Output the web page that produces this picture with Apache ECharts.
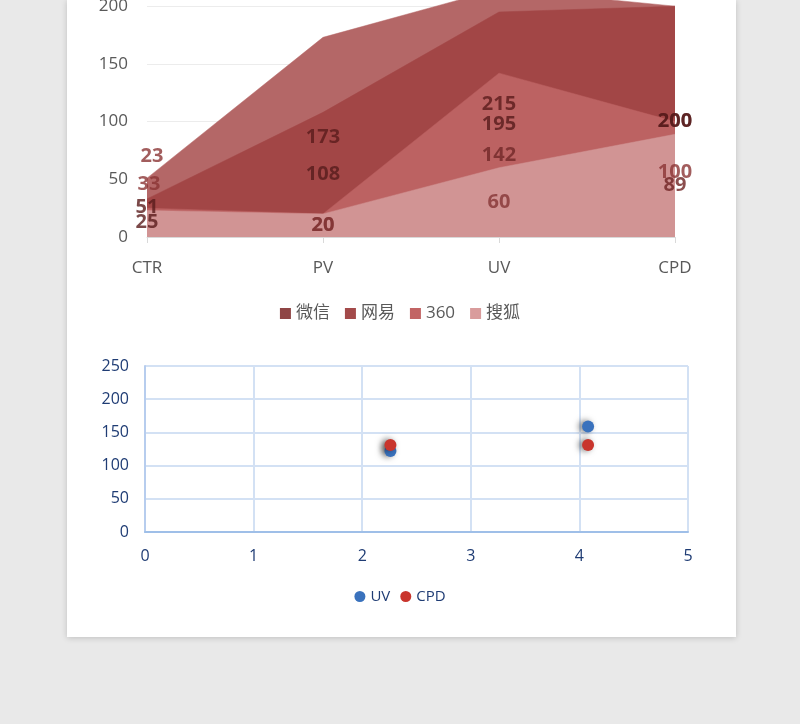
<!DOCTYPE html>
<html>
<head>
<meta charset="utf-8">
<script src="https://cdn.jsdelivr.net/npm/echarts@6/dist/echarts.min.js"></script>
<style>
html,body{margin:0;padding:0;width:800px;height:724px;background:#e9e9e9;overflow:hidden;}
#card{position:absolute;left:67px;top:0;width:669px;height:637px;background:#fff;box-shadow:0 1px 6px rgba(0,0,0,0.18);}
#chart{position:absolute;left:0;top:-60px;width:800px;height:784px;}
</style>
</head>
<body>
<div id="card"></div>
<div id="chart"></div>
<script>
// ---- data ----
const categories = ['CTR', 'PV', 'UV', 'CPD'];
const seriesNames = ['微信', '网易', '360', '搜狐'];
const wechat = [51, 173, 215, 200];
const netease = [33, 108, 195, 200];
const s360 = [25, 20, 142, 100];
const sohu = [23, 20, 60, 89];

const scatterNames = ['UV', 'CPD'];
const scatterX = [2.26, 4.08];
const uvValues = [122, 159];
const cpdValues = [131, 131];

// ---- styles ----
const FONT = "'Open Sans','Noto Sans CJK SC',sans-serif";
const areaColors = ['#b46767', '#a24646', '#bc6262', '#d19494'];
const legendColors = ['#8f4545', '#a34a4a', '#c26464', '#d99c9c'];
const labelColors = ['#5a1c1c', '#561b1b', '#702828', '#853535'];
// per-label tweaks: "seriesIndex:pointIndex" -> {dy, dx, color}
const labelTweaks = {
  '3:0': {dy: -67, dx: 5, color: '#8b3535'},
  '1:0': {dy: -34, dx: 2, color: '#8b3535'},
  '2:0': {dy: 0, dx: 0, color: '#5a1c1c'},
  '0:2': {dy: -9, dx: 0},
  '2:3': {dy: -7, dx: 0, color: '#8b3535'},
  '3:3': {dy: 0, dx: 0, color: '#6e2222'}
};

const allSeriesData = [wechat, netease, s360, sohu];

const series = [];
allSeriesData.forEach((vals, si) => {
  series.push({
    name: seriesNames[si],
    type: 'line',
    xAxisIndex: 0, yAxisIndex: 0,
    data: vals,
    symbol: 'none',
    itemStyle: {color: legendColors[si]},
    lineStyle: {width: 0.5, color: areaColors[si]},
    areaStyle: {color: areaColors[si], opacity: 1},
    z: 2 + si,
    silent: true
  });
});
allSeriesData.forEach((vals, si) => {
  series.push({
    name: seriesNames[si] + '-label',
    type: 'scatter',
    xAxisIndex: 0, yAxisIndex: 0,
    symbolSize: 0,
    z: 20 + si,
    data: vals.map((v, i) => {
      const t = labelTweaks[si + ':' + i] || {};
      return {
        value: [i, v / 2],
        realValue: v,
        label: {
          offset: [t.dx || 0, t.dy || 0],
          color: t.color || labelColors[si]
        }
      };
    }),
    label: {
      show: true,
      position: 'inside',
      formatter: p => String(p.data.realValue),
      fontFamily: FONT,
      fontWeight: 'bold',
      fontSize: 20
    }
  });
});

series.push({
  name: scatterNames[0],
  type: 'scatter',
  xAxisIndex: 1, yAxisIndex: 1,
  data: scatterX.map((x, i) => [x, uvValues[i]]),
  symbolSize: 12,
  itemStyle: {color: '#3a72bd', opacity: 1, shadowBlur: 6, shadowColor: 'rgba(0,0,0,0.55)', shadowOffsetX: -3, shadowOffsetY: 0}
});
series.push({
  name: scatterNames[1],
  type: 'scatter',
  xAxisIndex: 1, yAxisIndex: 1,
  data: scatterX.map((x, i) => [x, cpdValues[i]]),
  symbolSize: 12,
  itemStyle: {color: '#c9352d', opacity: 1, shadowBlur: 6, shadowColor: 'rgba(0,0,0,0.55)', shadowOffsetX: -3, shadowOffsetY: 0}
});

const chart = echarts.init(document.getElementById('chart'), null, {renderer: 'canvas'});
chart.setOption({
  backgroundColor: 'transparent',
  animation: false,
  textStyle: {fontFamily: FONT},
  grid: [
    {left: 147, width: 528, top: 5, height: 292},
    {left: 145, width: 543, top: 426, height: 166}
  ],
  legend: [
    {
      data: seriesNames,
      left: 'center', top: 360,
      icon: 'rect', itemWidth: 11, itemHeight: 11, itemGap: 15,
      textStyle: {color: '#595959', fontSize: 17, fontFamily: FONT}
    },
    {
      data: scatterNames,
      left: 'center', top: 644,
      icon: 'circle', itemWidth: 11, itemHeight: 11, itemGap: 10,
      textStyle: {color: '#1f3c74', fontSize: 15, fontFamily: FONT}
    }
  ],
  xAxis: [
    {
      gridIndex: 0, type: 'category', data: categories, boundaryGap: false,
      axisLine: {lineStyle: {color: '#d9d9d9', width: 1}},
      axisTick: {show: true, length: 6, lineStyle: {color: '#d9d9d9'}},
      axisLabel: {color: '#595959', fontSize: 17, margin: 23, fontFamily: FONT},
      splitLine: {show: false}
    },
    {
      gridIndex: 1, type: 'value', min: 0, max: 5, interval: 1,
      axisLine: {lineStyle: {color: '#9fbfe8', width: 2}},
      axisTick: {show: false},
      axisLabel: {color: '#1f3c74', fontSize: 16, margin: 16, fontFamily: FONT},
      splitLine: {show: true, lineStyle: {color: '#d3e1f4', width: 2}}
    }
  ],
  yAxis: [
    {
      gridIndex: 0, type: 'value', min: 0, max: 250, interval: 50,
      axisLine: {show: false}, axisTick: {show: false},
      axisLabel: {color: '#595959', fontSize: 17, margin: 19, fontFamily: FONT},
      splitLine: {show: true, lineStyle: {color: '#ececec', width: 1}}
    },
    {
      gridIndex: 1, type: 'value', min: 0, max: 250, interval: 50,
      axisLine: {show: true, lineStyle: {color: '#b7cdee', width: 2}},
      axisTick: {show: false},
      axisLabel: {color: '#1f3c74', fontSize: 16, margin: 16, fontFamily: FONT},
      splitLine: {show: true, lineStyle: {color: '#d3e1f4', width: 2}}
    }
  ],
  series: series
});
</script>
</body>
</html>
